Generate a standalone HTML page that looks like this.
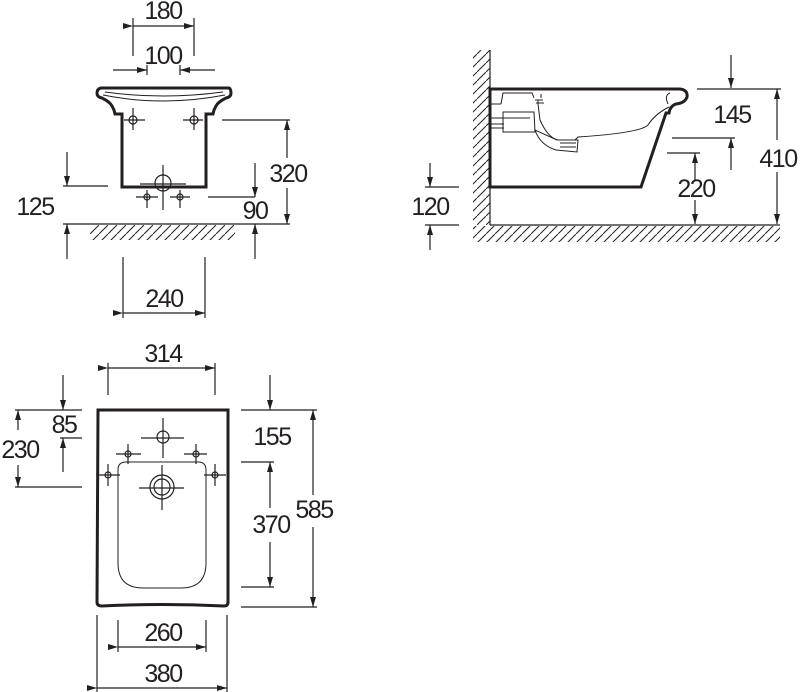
<!DOCTYPE html>
<html><head><meta charset="utf-8"><style>
html,body{margin:0;padding:0;background:#fff;}
svg{display:block;}
text{font-family:"Liberation Sans",Arial,sans-serif;font-size:25px;letter-spacing:-1.5px;fill:#231f20;text-anchor:middle;}
</style></head><body>
<svg width="800" height="692" viewBox="0 0 800 692" xmlns="http://www.w3.org/2000/svg">
<defs>
<marker id="a" viewBox="0 0 10 6" refX="10" refY="3" markerWidth="10" markerHeight="6" markerUnits="userSpaceOnUse" orient="auto"><path d="M0,0 L10,3 L0,6 z" fill="#231f20"/></marker>
<pattern id="h" width="9" height="9" patternUnits="userSpaceOnUse"><path d="M0,9 L9,0" stroke="#231f20" stroke-width="1"/></pattern>
</defs>
<g stroke="#231f20" stroke-width="1.2" fill="none">
<!-- FRONT VIEW -->
<line x1="133" y1="18" x2="133" y2="56"/><line x1="194" y1="18" x2="194" y2="56"/>
<line x1="133" y1="26" x2="194" y2="26" marker-start="url(#a)" marker-end="url(#a)"/>
<line x1="113" y1="70" x2="147" y2="70" marker-end="url(#a)"/>
<line x1="215" y1="70" x2="180" y2="70" marker-end="url(#a)"/>
<line x1="147" y1="65" x2="147" y2="75"/><line x1="180" y1="65" x2="180" y2="75"/>
<path d="M101,88 L229,88 Q231,89 231,93 Q231,97 226,98 Q218,102 216,106 L214,110 L213,114 L206,114 L206,187 L122,187 L122,114 L115,114 L114,110 L112,106 Q110,102 102,98 Q97,97 97,93 Q97,89 101,88 Z" stroke-width="3"/>
<path d="M103,95 Q163,107 225,95" stroke-width="1"/>
<path d="M105,92 Q163,100 223,92" stroke-width="1"/>
<circle cx="133" cy="120" r="4"/><line x1="133" y1="108" x2="133" y2="130"/><line x1="124" y1="120" x2="145" y2="120"/>
<circle cx="194" cy="120" r="4"/><line x1="194" y1="108" x2="194" y2="130"/><line x1="183" y1="120" x2="203" y2="120"/>
<circle cx="163" cy="183" r="8"/><line x1="163" y1="165" x2="163" y2="210"/><line x1="140" y1="184" x2="186" y2="184"/>
<circle cx="147" cy="197" r="3"/><line x1="147" y1="190" x2="147" y2="208"/><line x1="136" y1="197" x2="158" y2="197"/>
<circle cx="180" cy="197" r="3"/><line x1="180" y1="190" x2="180" y2="208"/><line x1="170" y1="197" x2="190" y2="197"/>
<line x1="222" y1="120" x2="290" y2="120"/>
<line x1="287" y1="158" x2="287" y2="120" marker-end="url(#a)"/>
<line x1="287" y1="188" x2="287" y2="224" marker-end="url(#a)"/>
<line x1="63" y1="224" x2="290" y2="224"/>
<rect x="90" y="225" width="145" height="15" fill="url(#h)" stroke="none"/>
<line x1="63" y1="186" x2="108" y2="186"/>
<line x1="67" y1="152" x2="67" y2="186" marker-end="url(#a)"/>
<line x1="67" y1="259" x2="67" y2="224" marker-end="url(#a)"/>
<line x1="208" y1="197" x2="255" y2="197"/>
<line x1="255" y1="163" x2="255" y2="197" marker-end="url(#a)"/>
<line x1="255" y1="259" x2="255" y2="224" marker-end="url(#a)"/>
<line x1="123" y1="257" x2="123" y2="318"/><line x1="205" y1="257" x2="205" y2="318"/>
<line x1="123" y1="313" x2="205" y2="313" marker-start="url(#a)" marker-end="url(#a)"/>
<!-- SIDE VIEW -->
<rect x="473" y="50" width="17" height="175" fill="url(#h)" stroke="none"/>
<rect x="473" y="226" width="307" height="16" fill="url(#h)" stroke="none"/>
<line x1="490" y1="50" x2="490" y2="225"/>
<line x1="490" y1="225" x2="780" y2="225"/>
<path d="M490,89 L680,89 Q688,90 687,97 Q685,103 676,104 Q670,106 669,113 L666,113 L641,187 L490,187 Z" stroke-width="3" fill="#fff"/>
<path d="M668,104 Q664,95 670,93" stroke-width="1"/>
<path d="M669,107 Q655,114 648,125 Q640,133 578,137 L575,140 M558,140 Q548,138 540,120 L538,104" stroke-width="1"/>
<path d="M501,104 L503,93 L532,93 L534,98 M501,104 L490,104 M503,112 L534,112 L535,132 L503,132 Z M490,118 L530,118 M490,124 L504,124 M490,128 L504,128" stroke-width="1"/>
<path d="M538,104 L538,100 M535,100 L543,100 M541,98 L541,94 M536,103 L544,103" stroke-width="1"/>
<path d="M535,130 Q540,145 556,150 L577,152 L578,140 L557,140 Z M560,143 L576,143 M560,147 L576,147" stroke-width="1"/>
<line x1="731" y1="55" x2="731" y2="88" marker-end="url(#a)"/>
<line x1="697" y1="89" x2="781" y2="89"/>
<line x1="777" y1="140" x2="777" y2="89" marker-end="url(#a)"/>
<line x1="777" y1="172" x2="777" y2="224" marker-end="url(#a)"/>
<line x1="672" y1="138" x2="735" y2="138"/>
<line x1="731" y1="170" x2="731" y2="138" marker-end="url(#a)"/>
<line x1="667" y1="153" x2="700" y2="153"/>
<line x1="695" y1="180" x2="695" y2="153" marker-end="url(#a)"/>
<line x1="695" y1="200" x2="695" y2="224" marker-end="url(#a)"/>
<line x1="425" y1="187" x2="459" y2="187"/><line x1="425" y1="225" x2="459" y2="225"/>
<line x1="430" y1="163" x2="430" y2="187" marker-end="url(#a)"/>
<line x1="430" y1="250" x2="430" y2="225" marker-end="url(#a)"/>
<!-- TOP VIEW -->
<line x1="108" y1="363" x2="108" y2="395"/><line x1="215" y1="363" x2="215" y2="395"/>
<line x1="108" y1="368" x2="215" y2="368" marker-start="url(#a)" marker-end="url(#a)"/>
<path d="M98,410 L228,410 L228,602 Q228,606 224,606 Q163,603 102,606 Q97,606 97,602 Z" stroke-width="3"/>
<path d="M126,462 L198,462 Q206,462 206,470 L206,563 Q206,588 181,588 L143,588 Q118,588 118,563 L118,470 Q118,462 126,462 Z" stroke-width="1"/>
<circle cx="163" cy="437" r="6"/><line x1="163" y1="418" x2="163" y2="458"/><line x1="141" y1="438" x2="184" y2="438"/>
<circle cx="128" cy="454" r="3"/><line x1="128" y1="444" x2="128" y2="464"/><line x1="116" y1="454" x2="141" y2="454"/>
<circle cx="196" cy="454" r="3"/><line x1="196" y1="444" x2="196" y2="464"/><line x1="184" y1="454" x2="207" y2="454"/>
<circle cx="108" cy="475" r="3"/><line x1="108" y1="464" x2="108" y2="486"/><line x1="99" y1="475" x2="120" y2="475"/>
<circle cx="215" cy="475" r="3"/><line x1="215" y1="464" x2="215" y2="486"/><line x1="204" y1="475" x2="226" y2="475"/>
<circle cx="162" cy="487" r="12"/><circle cx="162" cy="487" r="8"/><line x1="162" y1="465" x2="162" y2="510"/><line x1="139" y1="488" x2="184" y2="488"/>
<line x1="15" y1="410" x2="82" y2="410"/>
<line x1="63" y1="375" x2="63" y2="410" marker-end="url(#a)"/>
<line x1="60" y1="438" x2="82" y2="438"/>
<line x1="63" y1="472" x2="63" y2="438" marker-end="url(#a)"/>
<line x1="18" y1="430" x2="18" y2="410" marker-end="url(#a)"/>
<line x1="18" y1="465" x2="18" y2="487" marker-end="url(#a)"/>
<line x1="15" y1="487" x2="82" y2="487"/>
<line x1="241" y1="410" x2="317" y2="410"/>
<line x1="270" y1="375" x2="270" y2="410" marker-end="url(#a)"/>
<line x1="241" y1="462" x2="274" y2="462"/><line x1="241" y1="587" x2="274" y2="587"/>
<line x1="270" y1="508" x2="270" y2="462" marker-end="url(#a)"/>
<line x1="270" y1="542" x2="270" y2="587" marker-end="url(#a)"/>
<line x1="241" y1="607" x2="317" y2="607"/>
<line x1="313" y1="495" x2="313" y2="410" marker-end="url(#a)"/>
<line x1="313" y1="527" x2="313" y2="607" marker-end="url(#a)"/>
<line x1="118" y1="620" x2="118" y2="652"/><line x1="206" y1="620" x2="206" y2="652"/>
<line x1="118" y1="647" x2="206" y2="647" marker-start="url(#a)" marker-end="url(#a)"/>
<line x1="97" y1="615" x2="97" y2="692"/><line x1="227" y1="615" x2="227" y2="692"/>
<line x1="97" y1="688" x2="227" y2="688" marker-start="url(#a)" marker-end="url(#a)"/>
</g>
<text x="163" y="19">180</text>
<text x="163" y="64">100</text>
<text x="288" y="182">320</text>
<text x="35" y="215">125</text>
<text x="255" y="219">90</text>
<text x="164" y="307">240</text>
<text x="732" y="123">145</text>
<text x="778" y="167">410</text>
<text x="696" y="197">220</text>
<text x="430" y="215">120</text>
<text x="163" y="362">314</text>
<text x="64" y="433">85</text>
<text x="20" y="458">230</text>
<text x="272" y="445">155</text>
<text x="271" y="533">370</text>
<text x="314" y="518">585</text>
<text x="163" y="641">260</text>
<text x="163" y="682">380</text>
</svg>
</body></html>
